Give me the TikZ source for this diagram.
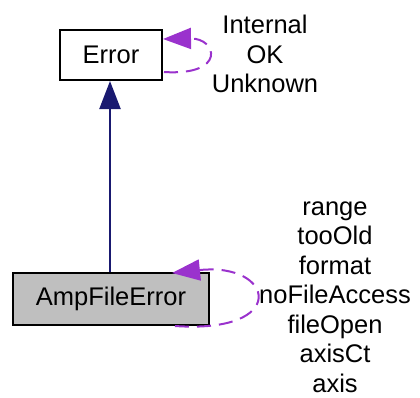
\documentclass[tikz,border=0pt]{standalone}
\usepackage{fontspec}
\setmainfont{Liberation Sans}
\usetikzlibrary{arrows.meta}
\definecolor{edgeblue}{RGB}{25,25,112}
\definecolor{edgepurple}{RGB}{154,50,205}
\definecolor{boxgray}{RGB}{191,191,191}
\begin{document}
\begin{tikzpicture}[x=1pt, y=-1pt, font=\fontsize{25.5}{29.5}\selectfont,
    classbox/.style={draw, line width=2pt, inner sep=0pt},
    looplabel/.style={align=center, inner sep=0pt},
    inherit/.style={draw=edgeblue, line width=2.2pt, -{Triangle[length=28pt, width=21pt]}},
    usage/.style={draw=edgepurple, line width=2pt, dash pattern=on 14pt off 8pt, -{Triangle[length=28pt, width=21pt]}}]
        \useasboundingbox (0,0) rectangle (420,397);

        % Draw class boxes
        \node[classbox, minimum width=102pt, minimum height=50pt] (err) at (111,55) {Error};
        \node[classbox, fill=boxgray, minimum width=196pt, minimum height=52pt] (amp) at (111,299) {AmpFileError};

        % Add inheritance edge
        \draw[inherit] (amp.north -| 110,0) -- (err.south -| 110,0);

        % Add self loops
        \draw[usage] (164,72) .. controls (227,76) and (217,38) .. (err.east |- 0,39);
        \draw[usage] (175,326) .. controls (290,334) and (275,262) .. (172,273);

        % Add loop labels
        \node[looplabel] (errlbl) at (265,54) {Internal\\OK\\Unknown};
        \node[looplabel] (amplbl) at (335,297) {range\\tooOld\\format\\noFileAccess\\fileOpen\\axisCt\\axis};
    \end{tikzpicture}
\end{document}
